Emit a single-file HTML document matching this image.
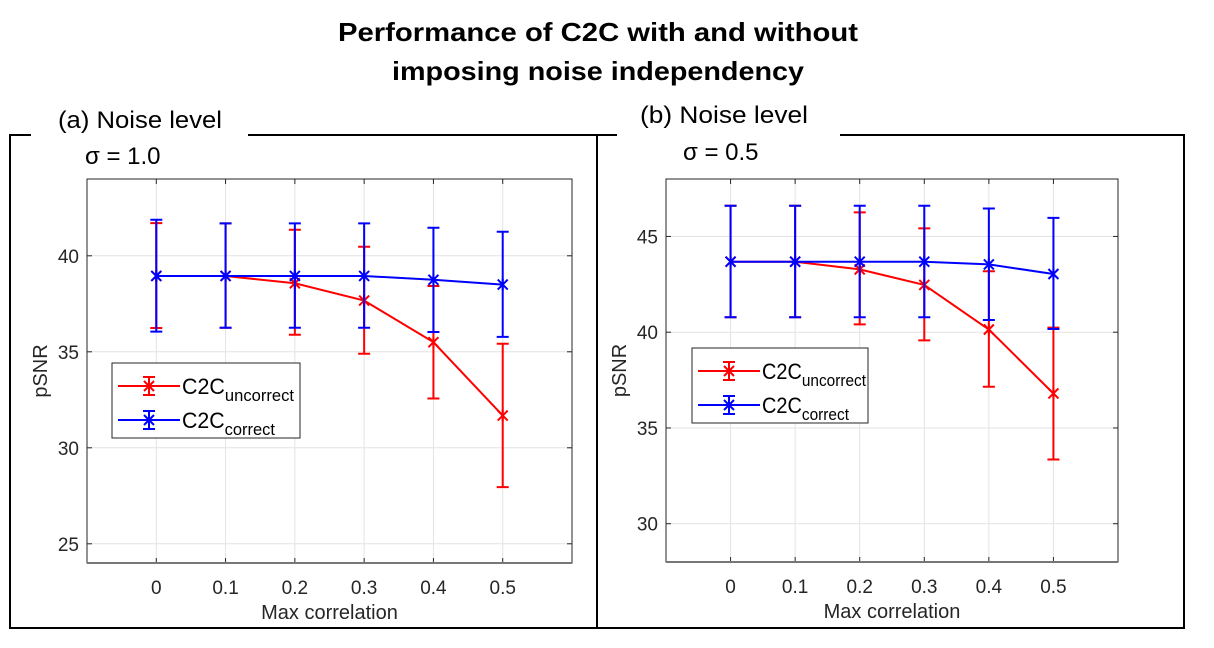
<!DOCTYPE html>
<html><head><meta charset="utf-8"><style>
body{margin:0;background:#fff;width:1214px;height:643px;overflow:hidden}
svg text{font-family:"Liberation Sans",sans-serif}
</style></head><body>
<svg id="c" width="1214" height="643" xmlns="http://www.w3.org/2000/svg">
<text x="338" y="41" font-size="26" font-weight="bold" textLength="520" lengthAdjust="spacingAndGlyphs">Performance of C2C with and without</text>
<text x="392" y="80" font-size="26" font-weight="bold" textLength="412" lengthAdjust="spacingAndGlyphs">imposing noise independency</text>
<g stroke="#000" stroke-width="2" fill="none">
<path d="M31,135 H10 V628 H1184 V135 H840"/>
<path d="M248,135 H617"/>
<path d="M597,135 V628"/>
</g>
<text x="58" y="128" font-size="24" textLength="164" lengthAdjust="spacingAndGlyphs">(a) Noise level</text>
<text x="85" y="164" font-size="24">σ = 1.0</text>
<text x="640" y="123" font-size="24" textLength="168" lengthAdjust="spacingAndGlyphs">(b) Noise level</text>
<text x="683" y="160" font-size="24">σ = 0.5</text>
<g id="pa"></g><g id="pb"></g>
</svg>
<script>
const xCats=[0,0.1,0.2,0.3,0.4,0.5];
const xTickLabels=["0","0.1","0.2","0.3","0.4","0.5"];
// panel a
const aBlue=[38.95,38.95,38.95,38.95,38.75,38.5];
const aBlueHi=[41.88,41.69,41.69,41.69,41.46,41.25];
const aBlueLo=[36.05,36.25,36.25,36.25,36.03,35.78];
const aRed=[38.95,38.95,38.57,37.67,35.5,31.68];
const aRedHi=[41.7,41.69,41.36,40.47,38.43,35.42];
const aRedLo=[36.24,36.25,35.89,34.9,32.57,27.95];
const aYTicks=[25,30,35,40];
// panel b
const bBlue=[43.68,43.68,43.68,43.68,43.54,43.04];
const bBlueHi=[46.6,46.6,46.6,46.6,46.46,45.97];
const bBlueLo=[40.78,40.78,40.78,40.78,40.64,40.17];
const bRed=[43.68,43.68,43.28,42.47,40.14,36.8];
const bRedHi=[46.6,46.6,46.26,45.42,43.18,40.24];
const bRedLo=[40.78,40.78,40.41,39.57,37.15,33.35];
const bYTicks=[30,35,40,45];
const NS="http://www.w3.org/2000/svg";
function mk(p,t,at){const e=document.createElementNS(NS,t);for(const k in at)e.setAttribute(k,at[k]);p.appendChild(e);return e;}
function panel(g,cfg){
 const {x0,x1,y0,y1,ymin,ymax,yt,blue,bhi,blo,red,rhi,rlo,leg,tag}=cfg;
 const sx=v=>x0+(v+0.1)/0.7*(x1-x0);
 const sy=v=>y1-(v-ymin)/(ymax-ymin)*(y1-y0);
 const bg=mk(g,'rect',{x:x0,y:y0,width:x1-x0,height:y1-y0,fill:'#fff',stroke:'#262626','stroke-width':1});
 
 
 xCats.forEach((v,i)=>{
  const l=mk(g,'line',{x1:sx(v),x2:sx(v),y1:y0,y2:y1,stroke:'#e3e3e3'});
  
  
  mk(g,'line',{x1:sx(v),x2:sx(v),y1:y1,y2:y1-5,stroke:'#262626'});
  mk(g,'line',{x1:sx(v),x2:sx(v),y1:y0,y2:y0+5,stroke:'#262626'});
  const t=mk(g,'text',{x:sx(v),y:y1+31,'text-anchor':'middle','font-size':19,fill:'#262626'});
  t.textContent=xTickLabels[i];
  
  
 });
 yt.forEach(v=>{
  const l=mk(g,'line',{x1:x0,x2:x1,y1:sy(v),y2:sy(v),stroke:'#e3e3e3'});
  
  
  mk(g,'line',{x1:x0,x2:x0+5,y1:sy(v),y2:sy(v),stroke:'#262626'});
  mk(g,'line',{x1:x1,x2:x1-5,y1:sy(v),y2:sy(v),stroke:'#262626'});
  const t=mk(g,'text',{x:x0-8,y:sy(v)+7,'text-anchor':'end','font-size':19,fill:'#262626'});
  t.textContent=v;
  
  
 });
 mk(g,'rect',{x:x0,y:y0,width:x1-x0,height:y1-y0,fill:'none',stroke:'#262626','stroke-width':1});
 mk(g,'line',{x1:x0,x2:x1,y1:y1,y2:y1,stroke:'#777','stroke-width':2});
 const xl=mk(g,'text',{x:(x0+x1)/2,y:y1+56,'text-anchor':'middle','font-size':20,fill:'#262626'});
 xl.textContent='Max correlation';
 
 
 const yl=mk(g,'text',{x:0,y:0,'text-anchor':'middle','font-size':20,fill:'#262626',transform:`translate(${x0-40},${(y0+y1)/2}) rotate(-90)`});
 yl.textContent='pSNR';
 
 
 function series(vals,hi,lo,col,name){
  const sg=mk(g,'g',{});
  
  
  xCats.forEach((v,i)=>{
   const x=sx(v);
   const eb=mk(sg,'path',{d:`M${x},${sy(hi[i])}V${sy(lo[i])}M${x-6},${sy(hi[i])}h12M${x-6},${sy(lo[i])}h12`,stroke:col,'stroke-width':2,fill:'none'});
   
   
  });
  mk(sg,'polyline',{points:vals.map((v,i)=>sx(xCats[i])+','+sy(v)).join(' '),stroke:col,'stroke-width':2,fill:'none'});
  xCats.forEach((v,i)=>{
   const x=sx(v),y=sy(vals[i]);
   const m=mk(sg,'path',{d:`M${x-5},${y-5}l10,10M${x-5},${y+5}l10,-10M${x},${y-6}v12`,stroke:col,'stroke-width':2});
   
   
  });
 }
 series(red,rhi,rlo,'#ff0000','uncorrect');
 series(blue,bhi,blo,'#0000ff','correct');
 const lg=mk(g,'g',{});
 
 
 mk(lg,'rect',{x:leg[0],y:leg[1],width:leg[2],height:75,fill:'#fff',stroke:'#262626'});
 [['#ff0000','uncorrect',23,leg[3]],['#0000ff','correct',57,leg[4]]].forEach(([c,s,dy,w])=>{
  const y=leg[1]+dy,lx=leg[0]+6;
  mk(lg,'path',{d:`M${lx},${y}h62M${lx+31},${y-9}v18M${lx+25},${y-9}h12M${lx+25},${y+9}h12M${lx+26},${y-5}l10,10M${lx+26},${y+5}l10,-10`,stroke:c,'stroke-width':2,fill:'none'});
  const t=mk(lg,'text',{x:lx+64,y:y+8,'font-size':22,fill:'#000',textLength:w,lengthAdjust:'spacingAndGlyphs'});
  t.innerHTML='C2C<tspan dy="7" font-size="17">'+s+'</tspan>';
  
  
 });
}
panel(document.getElementById('pa'),{x0:87,x1:572,y0:179,y1:563,ymin:24,ymax:44,yt:aYTicks,blue:aBlue,bhi:aBlueHi,blo:aBlueLo,red:aRed,rhi:aRedHi,rlo:aRedLo,leg:[112,363,188,112,93],tag:'panel-a'});
panel(document.getElementById('pb'),{x0:666,x1:1118,y0:179,y1:562,ymin:28,ymax:48,yt:bYTicks,blue:bBlue,bhi:bBlueHi,blo:bBlueLo,red:bRed,rhi:bRedHi,rlo:bRedLo,leg:[692,348,176,104,87],tag:'panel-b'});
</script>
</body></html>
